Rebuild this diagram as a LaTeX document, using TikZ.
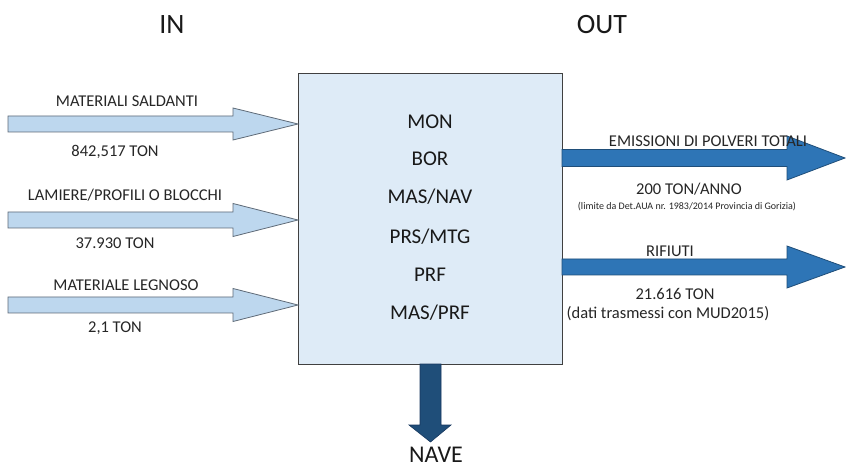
\documentclass[tikz,border=0pt]{standalone}
\usepackage{fontspec}
\setmainfont{Carlito}
\definecolor{boxfill}{HTML}{DEEBF7}
\definecolor{boxline}{HTML}{404040}
\definecolor{infill}{HTML}{BDD7EE}
\definecolor{inline}{HTML}{5F6B78}
\definecolor{outfill}{HTML}{2E75B6}
\definecolor{outline}{HTML}{1F4E79}
\definecolor{navefill}{HTML}{1F4E79}
\definecolor{naveline}{HTML}{17375E}
\newcommand\rarrowshape[6]{% x1, tip x, head start x, y, shaft half, head half
  (#1,{#4-#5}) -- (#3,{#4-#5}) -- (#3,{#4-#6}) -- (#2,#4) -- (#3,{#4+#6}) -- (#3,{#4+#5}) -- (#1,{#4+#5}) -- cycle}
\begin{document}
\begin{tikzpicture}[x=1pt,y=-1pt,
  inarrow/.style={fill=infill,draw=inline,line width=0.8pt,line join=miter},
  outarrow/.style={fill=outfill,draw=outline,line width=0.8pt,line join=miter},
  navearrow/.style={fill=navefill,draw=naveline,line width=0.6pt},
  lbl/.style={font=\fontsize{16.5}{18}\selectfont,inner sep=0pt,text=black!85},
  boxtxt/.style={font=\fontsize{21}{22}\selectfont,inner sep=0pt,text=black!90},
  head/.style={font=\fontsize{28}{30}\selectfont,inner sep=0pt,text=black!90}]
\useasboundingbox (0,0) rectangle (846,470);
\fill[white] (0,0) rectangle (846,470);
% main box
\node[draw=boxline,fill=boxfill,line width=0.8pt,minimum width=264pt,minimum height=291pt,inner sep=0pt,anchor=north west] (box) at (298,73) {};
% box texts
\node[boxtxt] (mon) at (430,122) {MON};
\node[boxtxt] (bor) at (430,159) {BOR};
\node[boxtxt] (masnav) at (430,197) {MAS/NAV};
\node[boxtxt] (prsmtg) at (430,237) {PRS/MTG};
\node[boxtxt] (prf) at (430,275) {PRF};
\node[boxtxt] (masprf) at (430,313) {MAS/PRF};
% headings
\node[head] (in) at (172,25) {IN};
\node[head] (out) at (602,25) {OUT};
% input arrows
\draw[inarrow] \rarrowshape{8}{298}{233}{124}{8}{16};
\draw[inarrow] \rarrowshape{8}{298}{233}{220}{8}{16.5};
\draw[inarrow] \rarrowshape{8}{298}{233}{305}{8}{16.5};
\node[lbl] (ms) at (127,101) {MATERIALI SALDANTI};
\node[lbl] (msv) at (115,152) {842,517 TON};
\node[lbl] (lam) at (125,195) {LAMIERE/PROFILI O BLOCCHI};
\node[lbl] (lamv) at (115,243) {37.930 TON};
\node[lbl] (leg) at (126,285) {MATERIALE LEGNOSO};
\node[lbl] (legv) at (115,328) {2,1 TON};
% output arrows
\draw[outarrow] \rarrowshape{562}{845}{787}{158}{8.5}{22};
\draw[outarrow] \rarrowshape{562}{845}{787}{267}{8}{21};
\node[lbl] (em) at (708,141) {EMISSIONI DI POLVERI TOTALI};
\node[lbl] (emv) at (689,189) {200 TON/ANNO};
\node[inner sep=0pt,font=\fontsize{10}{11}\selectfont,text=black!85] (emn) at (687,207) {(limite da Det.AUA nr. 1983/2014 Provincia di Gorizia)};
\node[lbl] (rif) at (670,251) {RIFIUTI};
\node[lbl] (rifv) at (675,294) {21.616 TON};
\node[lbl] (rifn) at (668,314) {(dati trasmessi con MUD2015)};
% down arrow
\draw[navearrow] (420,364) -- (441,364) -- (441,425) -- (451,425) -- (430.5,442) -- (409,425) -- (420,425) -- cycle;
\node[inner sep=0pt,font=\fontsize{24}{26}\selectfont,text=black!90,anchor=base] (nave) at (436,462) {NAVE};
\end{tikzpicture}
\end{document}
